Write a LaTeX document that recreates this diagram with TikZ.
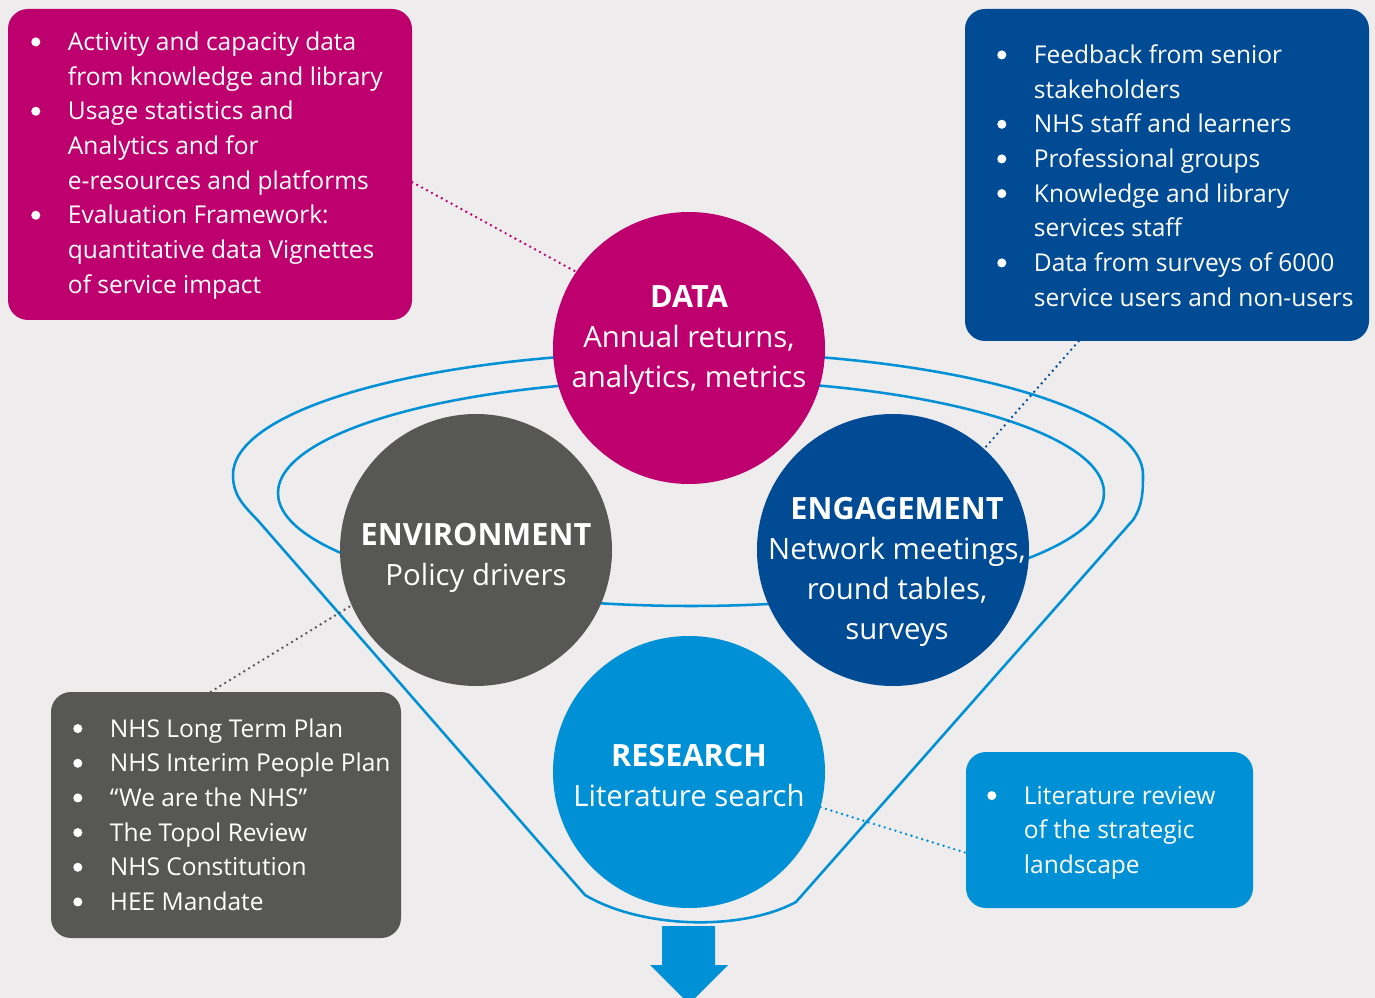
\documentclass[tikz,border=0pt]{standalone}
\usepackage{fontspec}
\setmainfont{Open Sans}
\usepackage{array}
\definecolor{bg}{HTML}{EEECED}
\definecolor{mag}{HTML}{BE006E}
\definecolor{dblue}{HTML}{004B93}
\definecolor{lblue}{HTML}{0090D5}
\definecolor{dgray}{HTML}{575756}
\newcommand{\bul}{\tikz[baseline=-6.5pt]\fill (0,0) circle (3.4pt);}
\newcommand{\blist}[1]{{\fontsize{18.4}{26}\selectfont\begin{tabular}{@{}p{27.5pt}@{}l@{}}#1\end{tabular}}}
\newcommand{\hd}[1]{{\fontsize{23}{30}\selectfont\bfseries #1}}
\tikzset{
  circ/.style={circle, minimum size=204pt, inner sep=0pt},
  box/.style={rectangle, rounded corners=15pt, inner sep=0pt},
  ctext/.style={text=white, align=center, font=\fontsize{22}{30}\selectfont, inner sep=0pt},
  btext/.style={text=white, anchor=west, inner sep=0pt},
  funnel/.style={draw=lblue, line width=1.9pt},
  dots/.style={draw=#1, line width=2pt, line cap=round, dash pattern=on 0pt off 4.2pt}
}
\begin{document}
\begin{tikzpicture}[x=0.75pt,y=-0.75pt]
\useasboundingbox (0,0) rectangle (1375,998);
\fill[bg] (0,0) rectangle (1375,998);
% funnel outline
\draw[funnel] (689,352) .. controls (437,352) and (233,407) .. (233,475)
  .. controls (233,495) and (243,505) .. (257.5,520) -- (585,895)
  .. controls (640,928) and (740,932) .. (796,902) -- (1133,520)
  .. controls (1143,505) and (1143,490) .. (1143,475)
  .. controls (1143,407) and (941,352) .. (689,352);
\draw[funnel] (691,493) ellipse [x radius=309.75pt, y radius=84.75pt];
% output arrow
\fill[lblue] (662,926) -- (715,926) -- (715,965) -- (728,965) -- (689,1004) -- (650,965) -- (662,965) -- cycle;
% circles
\node[circ, fill=mag] (data) at (689,348) {};
\node[circ, fill=dgray] (env) at (476,550) {};
\node[circ, fill=dblue] (eng) at (893,550) {};
\node[circ, fill=lblue] (res) at (689,772) {};
\node[ctext] (datat) at (689,340) {\hd{DATA}\\Annual returns,\\analytics, metrics};
\node[ctext] (envt) at (476,558) {\hd{ENVIRONMENT}\\Policy drivers};
\node[ctext] (engt) at (897,572) {\hd{ENGAGEMENT}\\Network meetings,\\round tables,\\surveys};
\node[ctext] (rest) at (689,776) {\hd{RESEARCH}\\Literature search};
% boxes
\node[box, fill=mag, minimum width=303pt, minimum height=233.25pt] (databox) at (210,164.5) {};
\node[box, fill=dblue, minimum width=303pt, minimum height=249pt] (engbox) at (1167,175) {};
\node[box, fill=dgray, minimum width=262.5pt, minimum height=184.5pt] (envbox) at (226,815) {};
\node[box, fill=lblue, minimum width=215.25pt, minimum height=117pt] (resbox) at (1109.5,830) {};
\node[btext] (databoxt) at (31,165) {\blist{%
\bul & Activity and capacity data\\
 & from knowledge and library\\
\bul & Usage statistics and\\
 & Analytics and for\\
 & e-resources and platforms\\
\bul & Evaluation Framework:\\
 & quantitative data Vignettes\\
 & of service impact}};
\node[btext] (engboxt) at (997,178) {\blist{%
\bul & Feedback from senior\\
 & stakeholders\\
\bul & NHS staff and learners\\
\bul & Professional groups\\
\bul & Knowledge and library\\
 & services staff\\
\bul & Data from surveys of 6000\\
 & service users and non-users}};
\node[btext] (envboxt) at (73,817) {\blist{%
\bul & NHS Long Term Plan\\
\bul & NHS Interim People Plan\\
\bul & “We are the NHS”\\
\bul & The Topol Review\\
\bul & NHS Constitution\\
\bul & HEE Mandate}};
\node[btext] (resboxt) at (987,832) {\blist{%
\bul & Literature review\\
 & of the strategic\\
 & landscape}};
% dotted connectors
\draw[dots=mag] (databox.-5.8) -- (data.146);
\draw[dots=dblue] (engbox.-118.3) -- (eng.48.6);
\draw[dots=dgray] (envbox.97.4) -- (env.204.7);
\draw[dots=lblue] (res.-15.1) -- (resbox.189.5);
\end{tikzpicture}
\end{document}
